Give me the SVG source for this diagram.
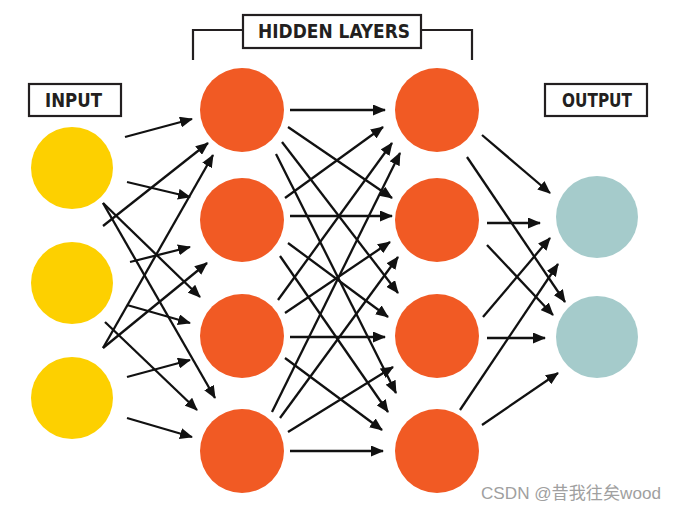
<svg xmlns="http://www.w3.org/2000/svg" width="675" height="511" viewBox="0 0 675 511">
<style>
.in{fill:#FDD000}
.hid{fill:#F15A24}
.out{fill:#A5CBCB}
.box{fill:#fff;stroke:#231F20;stroke-width:2.2}
.lbl{font-family:"DejaVu Sans Condensed","Liberation Sans Narrow","Liberation Sans",sans-serif;font-weight:bold;font-size:19px;fill:#231F20}
.br{fill:none;stroke:#231F20;stroke-width:2.2}
.c line{stroke:#111;stroke-width:2.3;marker-end:url(#ah)}
.wm{font-family:"Liberation Sans","Noto Sans CJK SC",sans-serif;font-size:17px;fill:#a0a0a0}
</style>
<defs>
<marker id="ah" markerUnits="userSpaceOnUse" markerWidth="13" markerHeight="11" refX="12" refY="5.5" orient="auto">
<path d="M0,0 L13,5.5 L0,11 z" fill="#111"/>
</marker>
</defs>
<rect width="675" height="511" fill="#fff"/>
<g id="label-input"><rect class="box" x="29" y="84" width="92" height="32"/><text class="lbl" x="45" y="107" textLength="57" lengthAdjust="spacingAndGlyphs">INPUT</text></g>
<g id="label-hidden"><path class="br" d="M193,60 V30 H243 M421,30 H472 V60"/><rect class="box" x="243" y="15" width="178" height="33"/><text class="lbl" x="258" y="38" textLength="152" lengthAdjust="spacingAndGlyphs">HIDDEN LAYERS</text></g>
<g id="label-output"><rect class="box" x="545" y="84" width="102" height="32"/><text class="lbl" x="562" y="107" textLength="70" lengthAdjust="spacingAndGlyphs">OUTPUT</text></g>
<g id="i1"><circle class="in" cx="72" cy="168" r="41"/></g>
<g id="i2"><circle class="in" cx="72" cy="283" r="41"/></g>
<g id="i3"><circle class="in" cx="72" cy="398" r="41"/></g>
<g id="ha1"><circle class="hid" cx="242" cy="110" r="42"/></g>
<g id="ha2"><circle class="hid" cx="242" cy="220" r="42"/></g>
<g id="ha3"><circle class="hid" cx="242" cy="336" r="42"/></g>
<g id="ha4"><circle class="hid" cx="242" cy="451" r="42"/></g>
<g id="hb1"><circle class="hid" cx="437" cy="110" r="42"/></g>
<g id="hb2"><circle class="hid" cx="437" cy="220" r="42"/></g>
<g id="hb3"><circle class="hid" cx="437" cy="336" r="42"/></g>
<g id="hb4"><circle class="hid" cx="437" cy="451" r="42"/></g>
<g id="o1"><circle class="out" cx="597" cy="217" r="41"/></g>
<g id="o2"><circle class="out" cx="597" cy="337" r="41"/></g>
<g class="c" id="connectors">
<line x1="125" y1="137" x2="192" y2="119"/>
<line x1="127" y1="182" x2="190" y2="197"/>
<line x1="103" y1="203" x2="200" y2="297"/>
<line x1="103" y1="203" x2="215" y2="398"/>
<line x1="103" y1="226" x2="208" y2="143"/>
<line x1="130" y1="262" x2="190" y2="247"/>
<line x1="127" y1="305" x2="190" y2="323"/>
<line x1="105" y1="322" x2="197" y2="410"/>
<line x1="103" y1="348" x2="213" y2="155"/>
<line x1="103" y1="348" x2="207" y2="263"/>
<line x1="127" y1="377" x2="190" y2="360"/>
<line x1="127" y1="418" x2="192" y2="437"/>
<line x1="290" y1="110" x2="385" y2="110"/>
<line x1="288" y1="127" x2="392" y2="198"/>
<line x1="282" y1="142" x2="398" y2="293"/>
<line x1="276" y1="154" x2="396" y2="393"/>
<line x1="285" y1="198" x2="383" y2="127"/>
<line x1="290" y1="216" x2="392" y2="216"/>
<line x1="288" y1="243" x2="388" y2="317"/>
<line x1="280" y1="256" x2="388" y2="412"/>
<line x1="278" y1="300" x2="392" y2="143"/>
<line x1="285" y1="313" x2="390" y2="242"/>
<line x1="290" y1="337" x2="385" y2="337"/>
<line x1="285" y1="358" x2="382" y2="430"/>
<line x1="272" y1="412" x2="400" y2="153"/>
<line x1="280" y1="418" x2="398" y2="257"/>
<line x1="288" y1="432" x2="393" y2="367"/>
<line x1="290" y1="451" x2="383" y2="451"/>
<line x1="482" y1="135" x2="550" y2="193"/>
<line x1="467" y1="157" x2="565" y2="302"/>
<line x1="487" y1="223" x2="540" y2="223"/>
<line x1="487" y1="245" x2="553" y2="315"/>
<line x1="483" y1="317" x2="550" y2="238"/>
<line x1="487" y1="338" x2="545" y2="338"/>
<line x1="460" y1="410" x2="558" y2="264"/>
<line x1="482" y1="425" x2="558" y2="373"/>
</g>
<text class="wm" x="481" y="499" textLength="180" lengthAdjust="spacingAndGlyphs">CSDN @昔我往矣wood</text>
</svg>
